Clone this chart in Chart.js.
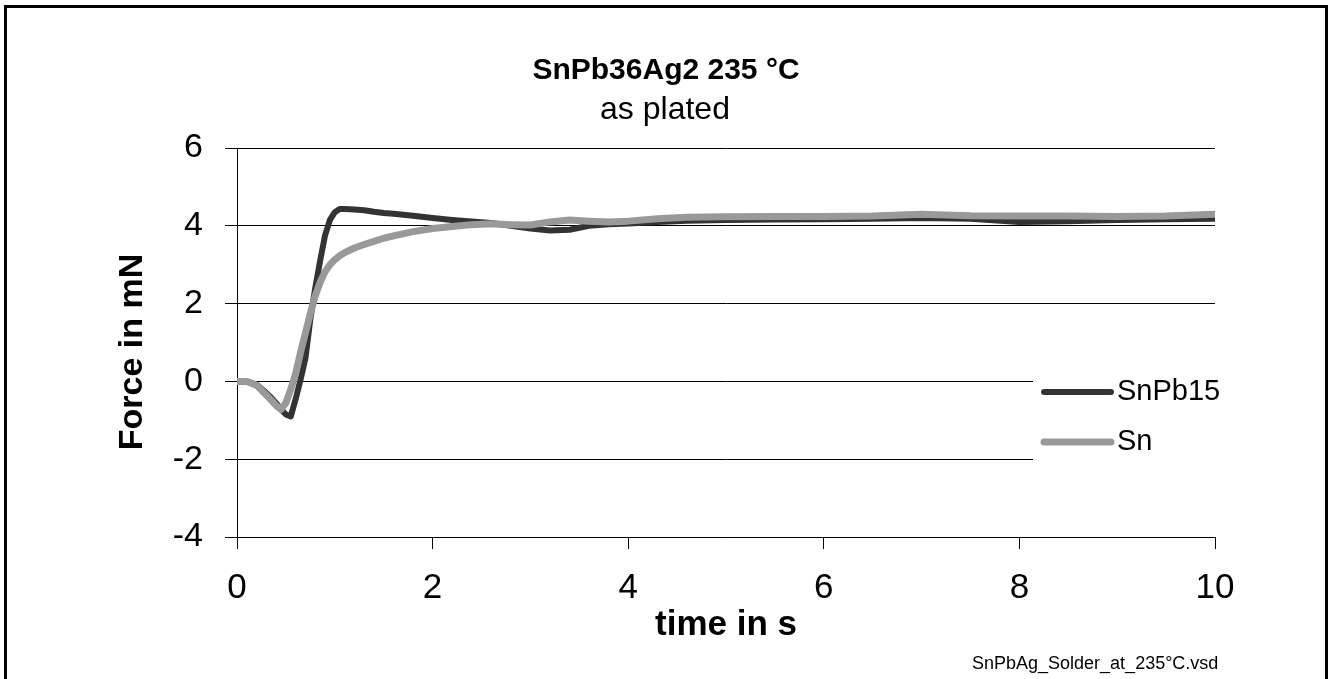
<!DOCTYPE html>
<html>
<head>
<meta charset="utf-8">
<script src="https://cdn.jsdelivr.net/npm/chart.js@4/dist/chart.umd.min.js"></script>
<style>
  html, body { margin: 0; padding: 0; background: #fff; overflow: hidden; }
  #frame { position: absolute; left: 4px; top: 5px; width: 1318px; height: 720px; border: 3px solid #000; }
  #chart { position: absolute; left: 0; top: 0; }
</style>
</head>
<body>
<div id="frame"></div>
<canvas id="chart" width="1330" height="679"></canvas>
<script>
// time in s
const times = [0, 0.1, 0.2, 0.3, 0.35, 0.4, 0.45, 0.5, 0.55, 0.6, 0.65, 0.7, 0.75, 0.8, 0.85, 0.9, 0.95, 1.0, 1.05, 1.1, 1.2, 1.3, 1.4, 1.5, 1.6, 1.8, 2.0, 2.2, 2.4, 2.6, 2.8, 3.0, 3.2, 3.4, 3.6, 3.8, 4.0, 4.3, 4.6, 5.0, 5.5, 6.0, 6.5, 7.0, 7.5, 8.0, 8.5, 9.0, 9.5, 10.0];

// force in mN
const snPb15 = [0, 0, -0.08, -0.3, -0.42, -0.56, -0.72, -0.85, -0.9, -0.45, 0.05, 0.6, 1.6, 2.4, 3.1, 3.75, 4.15, 4.35, 4.43, 4.43, 4.42, 4.4, 4.36, 4.33, 4.31, 4.26, 4.2, 4.15, 4.11, 4.07, 4.0, 3.93, 3.88, 3.9, 4.0, 4.04, 4.06, 4.1, 4.13, 4.15, 4.16, 4.17, 4.18, 4.2, 4.18, 4.1, 4.12, 4.15, 4.17, 4.18];
const sn = [0, 0, -0.1, -0.35, -0.48, -0.62, -0.72, -0.55, -0.2, 0.2, 0.75, 1.25, 1.75, 2.2, 2.55, 2.82, 3.0, 3.13, 3.23, 3.31, 3.43, 3.52, 3.6, 3.68, 3.74, 3.85, 3.93, 3.98, 4.03, 4.05, 4.03, 4.02, 4.1, 4.15, 4.12, 4.1, 4.12, 4.18, 4.22, 4.23, 4.24, 4.24, 4.25, 4.3, 4.26, 4.25, 4.25, 4.24, 4.25, 4.3];

const seriesNames = ["SnPb15", "Sn"];
const seriesColors = ["#333333", "#999999"];
const xTicks = [0, 2, 4, 6, 8, 10];
const yTicks = [-4, -2, 0, 2, 4, 6];

const FONT = "'Liberation Sans', Arial, sans-serif";

const toPoints = (vals) => vals.map((v, i) => ({ x: times[i], y: v }));

const textPlugin = {
  id: "texts",
  afterDraw(chart) {
    const ctx = chart.ctx;
    ctx.save();
    ctx.fillStyle = "#000";
    ctx.textAlign = "center";
    ctx.textBaseline = "middle";
    ctx.font = "bold 30px " + FONT;
    ctx.fillText("SnPb36Ag2 235 °C", 666, 71);
    ctx.font = "32px " + FONT;
    ctx.fillText("as plated", 665, 110);
    ctx.font = "bold 35px " + FONT;
    ctx.fillText("time in s", 726, 625);
    ctx.save();
    ctx.translate(133, 352);
    ctx.rotate(-Math.PI / 2);
    ctx.font = "bold 34px " + FONT;
    ctx.fillText("Force in mN", 0, 0);
    ctx.restore();
    ctx.font = "18px " + FONT;
    ctx.textAlign = "left";
    ctx.fillText("SnPbAg_Solder_at_235°C.vsd", 972, 664);

    // legend box inside the plot
    ctx.fillStyle = "#fff";
    ctx.fillRect(1033, 340, 183, 160);
    const ys = [392, 442];
    const widths = [6, 7];
    ctx.lineCap = "round";
    ys.forEach((y, i) => {
      ctx.strokeStyle = seriesColors[i];
      ctx.lineWidth = widths[i];
      ctx.beginPath();
      ctx.moveTo(1044, y);
      ctx.lineTo(1111, y);
      ctx.stroke();
      ctx.fillStyle = "#000";
      ctx.font = "29px " + FONT;
      ctx.fillText(seriesNames[i], 1117, y);
    });
    ctx.restore();
  }
};

new Chart(document.getElementById("chart"), {
  type: "line",
  data: {
    datasets: [
      {
        label: seriesNames[0],
        data: toPoints(snPb15),
        borderColor: seriesColors[0],
        borderWidth: 6,
        order: 1
      },
      {
        label: seriesNames[1],
        data: toPoints(sn),
        borderColor: seriesColors[1],
        borderWidth: 7,
        order: 0
      }
    ]
  },
  options: {
    responsive: false,
    animation: false,
    devicePixelRatio: 1,
    layout: { padding: { left: 0, right: 115, top: 148, bottom: 0 } },
    elements: {
      point: { radius: 0 },
      line: { tension: 0, borderCapStyle: "round", borderJoinStyle: "round", fill: false }
    },
    plugins: { legend: { display: false }, tooltip: { enabled: false }, title: { display: false } },
    scales: {
      x: {
        type: "linear",
        min: 0,
        max: 10,
        afterFit: (s) => { s.height = 142; },
        afterBuildTicks: (s) => { s.ticks = xTicks.map((v) => ({ value: v })); },
        border: { color: "#000", width: 1 },
        grid: { drawOnChartArea: false, drawTicks: true, tickLength: 12, color: "#000" },
        ticks: { color: "#000", font: { family: FONT, size: 35 }, padding: 18, maxRotation: 0 }
      },
      y: {
        min: -4,
        max: 6,
        afterFit: (s) => { s.width = 237; },
        afterBuildTicks: (s) => { s.ticks = yTicks.map((v) => ({ value: v })); },
        border: { color: "#000", width: 1 },
        grid: { drawTicks: true, tickLength: 12, color: "#000", lineWidth: 1 },
        ticks: { color: "#000", font: { family: FONT, size: 34 }, padding: 22 }
      }
    }
  },
  plugins: [textPlugin]
});
</script>
</body>
</html>
